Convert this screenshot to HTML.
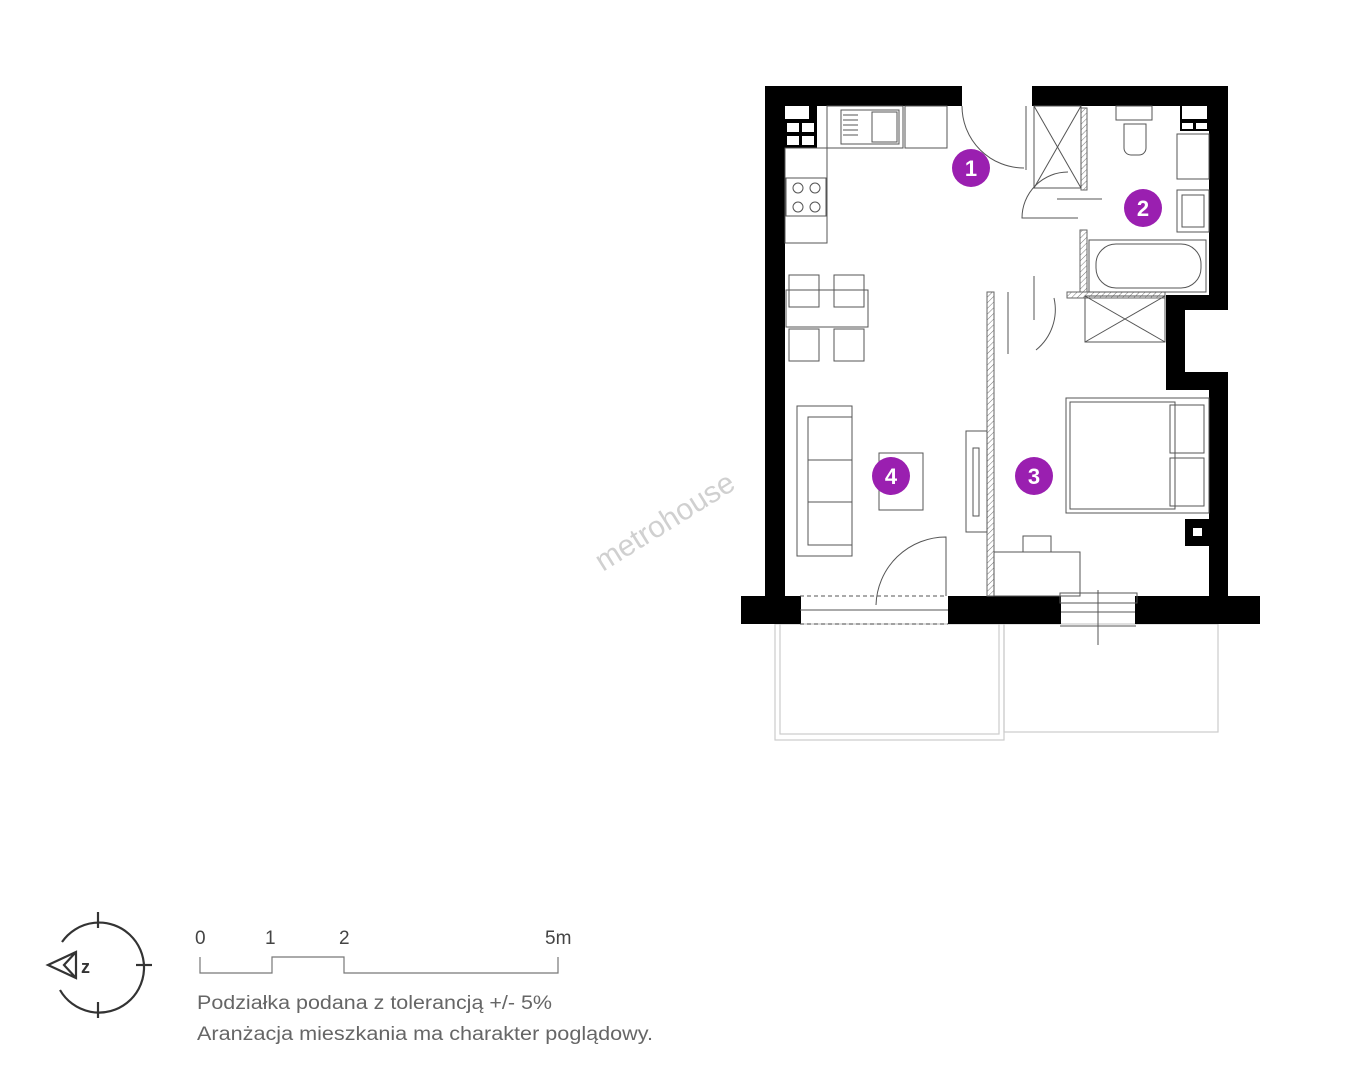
<!DOCTYPE html>
<html><head><meta charset="utf-8"><style>html,body{margin:0;padding:0;background:#fff}svg{display:block}</style></head>
<body>
<svg width="1348" height="1080" viewBox="0 0 1348 1080" xmlns="http://www.w3.org/2000/svg" font-family="Liberation Sans, sans-serif">
<defs>
<pattern id="h" width="4" height="4" patternUnits="userSpaceOnUse" patternTransform="rotate(45)"><line x1="0" y1="0" x2="0" y2="4" stroke="#777" stroke-width="1"/></pattern>
</defs>
<g fill="none" stroke="#ccc" stroke-width="1.2">
<rect x="775" y="624" width="229" height="116"/>
<rect x="780" y="624" width="219" height="110"/>
<rect x="1004" y="624" width="214" height="108"/>
</g>
<g fill="#000">
<rect x="765" y="86" width="197" height="20"/>
<rect x="1032" y="86" width="196" height="20"/>
<rect x="765" y="86" width="20" height="536"/>
<rect x="1209" y="86" width="19" height="224"/>
<rect x="1166" y="295" width="62" height="15"/>
<rect x="1166" y="295" width="19" height="95"/>
<rect x="1166" y="372" width="62" height="18"/>
<rect x="1209" y="372" width="19" height="250"/>
<rect x="741" y="596" width="60" height="28"/>
<rect x="948" y="596" width="113" height="28"/>
<rect x="1135" y="596" width="125" height="28"/>
<rect x="1185" y="519" width="25" height="27"/>
</g>
<rect x="1193" y="528" width="9" height="8" fill="#fff"/>
<g fill="#000"><rect x="785" y="106" width="32" height="42"/><rect x="1180" y="106" width="29" height="25"/></g>
<g fill="#fff"><rect x="787" y="123" width="12" height="9"/><rect x="802" y="123" width="12" height="9"/><rect x="787" y="136" width="12" height="9"/><rect x="802" y="136" width="12" height="9"/><rect x="1182" y="123" width="11" height="6"/><rect x="1196" y="123" width="11" height="6"/><rect x="785" y="106" width="24" height="13"/><rect x="1182" y="106" width="25" height="13"/></g>
<rect x="987" y="292" width="7" height="304" fill="url(#h)" stroke="#666" stroke-width="1"/>
<rect x="1080" y="230" width="7" height="62" fill="url(#h)" stroke="#666" stroke-width="1"/>
<rect x="1067" y="292" width="98" height="6" fill="url(#h)" stroke="#666" stroke-width="1"/>
<rect x="1081" y="108" width="6" height="82" fill="url(#h)" stroke="#666" stroke-width="1"/>
<g fill="none" stroke="#555" stroke-width="1">
<rect x="827" y="106" width="76" height="42"/>
<rect x="841" y="110" width="58" height="34"/>
<line x1="843" y1="115" x2="858" y2="115"/><line x1="843" y1="120" x2="858" y2="120"/><line x1="843" y1="125" x2="858" y2="125"/><line x1="843" y1="130" x2="858" y2="130"/><line x1="843" y1="135" x2="858" y2="135"/>
<rect x="872" y="112" width="25" height="30"/>
<rect x="905" y="106" width="42" height="42"/>
<rect x="785" y="148" width="42" height="95"/>
<rect x="786" y="178" width="40" height="38"/>
<circle cx="798" cy="188" r="5"/><circle cx="815" cy="188" r="5"/><circle cx="798" cy="207" r="5"/><circle cx="815" cy="207" r="5"/>
<path d="M962 106 A 62 62 0 0 0 1024 168"/>
<line x1="1026" y1="106" x2="1026" y2="170"/>
<path d="M1068 172 A 46 46 0 0 0 1022 218 L1078 218"/>
<line x1="1057" y1="199" x2="1102" y2="199"/>
<rect x="1034" y="106" width="47" height="82"/><line x1="1034" y1="106" x2="1081" y2="188"/><line x1="1081" y1="106" x2="1034" y2="188"/>
<rect x="1085" y="296" width="80" height="46"/><line x1="1085" y1="296" x2="1165" y2="342"/><line x1="1165" y1="296" x2="1085" y2="342"/>
<rect x="1116" y="106" width="36" height="14"/>
<path d="M1124 124 h22 v24 a7 7 0 0 1 -7 7 h-8 a7 7 0 0 1 -7 -7 z"/>
<rect x="1177" y="134" width="32" height="45"/>
<rect x="1177" y="190" width="32" height="42"/><rect x="1182" y="195" width="22" height="32"/>
<rect x="1089" y="240" width="117" height="52"/>
<rect x="1096" y="244" width="105" height="44" rx="20"/>
<path d="M1036 350 A 52 52 0 0 0 1054 298"/><line x1="1034" y1="276" x2="1034" y2="320"/>
<line x1="1008" y1="292" x2="1008" y2="354"/>
<rect x="786" y="290" width="82" height="37"/>
<rect x="789" y="275" width="30" height="32"/><rect x="834" y="275" width="30" height="32"/>
<rect x="789" y="329" width="30" height="32"/><rect x="834" y="329" width="30" height="32"/>
<rect x="797" y="406" width="55" height="150"/>
<rect x="808" y="417" width="44" height="128"/>
<line x1="808" y1="460" x2="852" y2="460"/><line x1="808" y1="502" x2="852" y2="502"/>
<rect x="879" y="453" width="44" height="57"/>
<rect x="966" y="431" width="21" height="101"/>
<rect x="973" y="448" width="6" height="68"/>
<path d="M876 605 A 70 70 0 0 1 946 537 L946 596"/>
<line x1="800" y1="596" x2="946" y2="596" stroke-dasharray="4 3"/>
<line x1="800" y1="610" x2="948" y2="610"/><line x1="800" y1="624" x2="948" y2="624" stroke-dasharray="4 3"/>
<rect x="1066" y="398" width="143" height="115"/>
<rect x="1070" y="402" width="105" height="107"/>
<rect x="1170" y="405" width="34" height="48"/><rect x="1170" y="458" width="34" height="48"/>
<rect x="994" y="552" width="86" height="44"/>
<rect x="1023" y="536" width="28" height="16"/>
<rect x="1060" y="593" width="77" height="10"/>
<line x1="1061" y1="612" x2="1135" y2="612"/>
<line x1="1098" y1="590" x2="1098" y2="645"/>
<line x1="1060" y1="626" x2="1136" y2="626"/>
</g>
<text x="670" y="530" transform="rotate(-32 670 530)" text-anchor="middle" font-size="30" fill="#d0d0d0">metrohouse</text>
<g fill="#9a1fb0"><circle cx="971" cy="168" r="19"/><circle cx="1143" cy="208" r="19"/><circle cx="1034" cy="476" r="19"/><circle cx="891" cy="476" r="19"/></g>
<g fill="#fff" font-size="22" font-weight="bold" text-anchor="middle"><text x="971" y="176">1</text><text x="1143" y="216">2</text><text x="1034" y="484">3</text><text x="891" y="484">4</text></g>
<g fill="none" stroke="#333" stroke-width="2.2">
<path d="M62 942 A 45 45 0 1 1 60 990"/>
<line x1="98" y1="912" x2="98" y2="928"/><line x1="98" y1="1002" x2="98" y2="1018"/><line x1="136" y1="965" x2="152" y2="965"/>
<path d="M48 965 L76 952 L76 978 Z M76 952 L64 965 L76 978"/>
</g>
<text x="81" y="973" font-size="18" font-weight="bold" fill="#333">z</text>
<g fill="#444" font-size="19"><text x="195" y="944">0</text><text x="265" y="944">1</text><text x="339" y="944">2</text><text x="545" y="944">5m</text></g>
<path d="M200 957 V973 H272 V957 H344 V973 H558 V957" fill="none" stroke="#777" stroke-width="1.2"/>
<g fill="#666" font-size="19"><text x="197" y="1009" textLength="355" lengthAdjust="spacingAndGlyphs">Podziałka podana z tolerancją +/- 5%</text><text x="197" y="1040" textLength="456" lengthAdjust="spacingAndGlyphs">Aranżacja mieszkania ma charakter poglądowy.</text></g>
</svg>
</body></html>
